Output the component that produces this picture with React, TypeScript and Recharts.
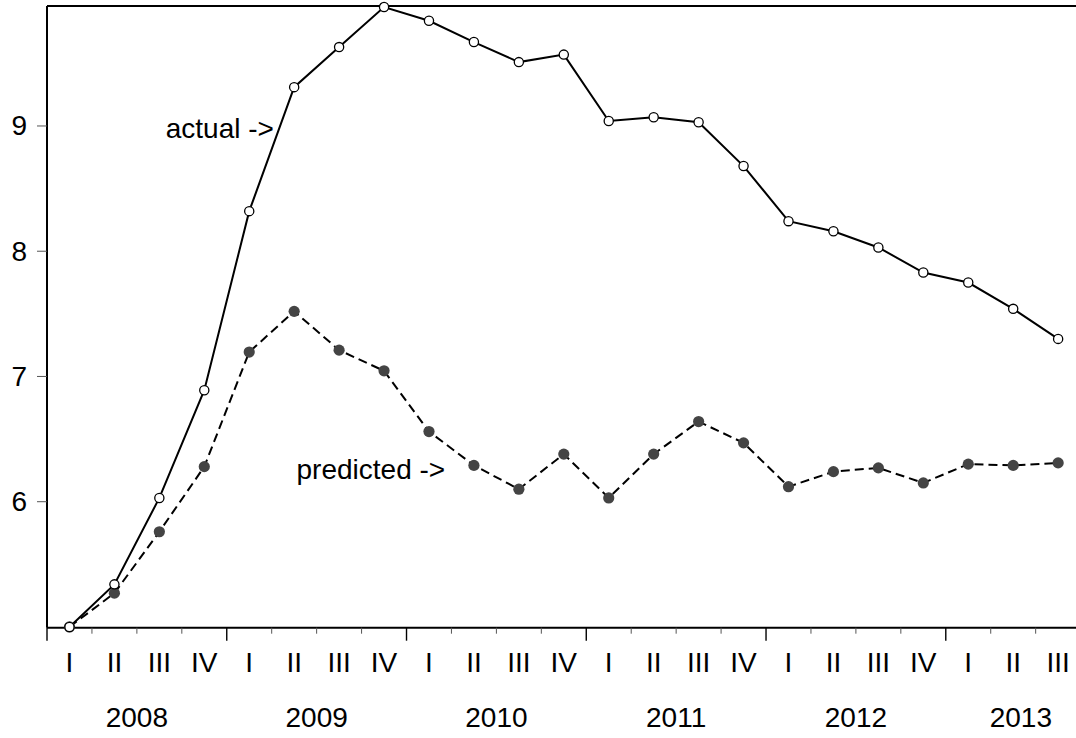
import React from 'react';
import { LineChart, Line, XAxis, YAxis, ReferenceDot, ReferenceLine } from 'recharts';

const quarters = ['I', 'II', 'III', 'IV', 'I', 'II', 'III', 'IV', 'I', 'II', 'III', 'IV', 'I', 'II', 'III', 'IV', 'I', 'II', 'III', 'IV', 'I', 'II', 'III'];
const actual = [5.0, 5.34, 6.03, 6.89, 8.32, 9.31, 9.63, 9.95, 9.84, 9.67, 9.51, 9.57, 9.04, 9.07, 9.03, 8.68, 8.24, 8.16, 8.03, 7.83, 7.75, 7.54, 7.30];
const predicted = [5.0, 5.27, 5.76, 6.28, 7.195, 7.52, 7.21, 7.045, 6.56, 6.29, 6.10, 6.38, 6.03, 6.38, 6.64, 6.47, 6.12, 6.24, 6.27, 6.15, 6.30, 6.29, 6.31];
const years = ['2008', '2009', '2010', '2011', '2012', '2013'];
const yearPositions = [2, 6, 10, 14, 18, 21.67];
const yTicks = [6, 7, 8, 9];
const yDomain = [4.994, 9.958];
const xDomain = [0, 23];

const data = quarters.map((q, i) => ({ x: i + 0.5, q, actual: actual[i], predicted: predicted[i] }));
const boundaries = Array.from({ length: 24 }, (_, i) => i);
const centers = quarters.map((_, i) => i + 0.5);
const allTicks = Array.from(new Set([...boundaries, ...centers, ...yearPositions])).sort((a, b) => a - b);

const FONT = '"Liberation Sans", Arial, Helvetica, sans-serif';
const FS = 28;

const XTick = (props: any) => {
  const { x, y, payload } = props;
  const v = payload.value;
  const parts: any[] = [];
  if (Number.isInteger(v)) {
    const major = v % 4 === 0;
    parts.push(
      <line key="t" x1={x} x2={x} y1={y} y2={y + (major ? 13 : 6)} stroke={major ? '#000' : '#555'} strokeWidth={major ? 1.4 : 1} />
    );
  } else if (Math.abs(v - Math.floor(v) - 0.5) < 1e-9) {
    parts.push(
      <text key="q" x={x} y={y + 44} textAnchor="middle" fontSize={FS} fontFamily={FONT} fill="#000">
        {quarters[Math.floor(v)]}
      </text>
    );
  }
  const yi = yearPositions.indexOf(v);
  if (yi >= 0) {
    parts.push(
      <text key="y" x={x} y={y + 99} textAnchor="middle" fontSize={FS} fontFamily={FONT} fill="#000">
        {years[yi]}
      </text>
    );
  }
  return <g>{parts}</g>;
};

const YTick = (props: any) => {
  const { x, y, payload } = props;
  return (
    <text x={x} y={y} dy={9.5} textAnchor="end" fontSize={FS} fontFamily={FONT} fill="#000">
      {payload.value}
    </text>
  );
};

const OpenDot = (props: any) => {
  const { cx, cy } = props;
  return <circle cx={cx} cy={cy} r={4.6} fill="#fff" stroke="#000" strokeWidth={1.3} />;
};

const FilledDot = (props: any) => {
  const { cx, cy } = props;
  return <circle cx={cx} cy={cy} r={5.6} fill="#444" stroke="none" />;
};

const annotations = [
  { text: 'actual ->', x: 5.05, y: 8.902 },
  { text: 'predicted ->', x: 8.86, y: 6.18 },
];

const AnnotationShape = (text: string) => (props: any) => {
  const { cx, cy } = props;
  return (
    <text x={cx} y={cy} textAnchor="end" fontSize={FS} fontFamily={FONT} fill="#000">
      {text}
    </text>
  );
};

export default function App() {
  return (
    <div style={{ position: 'fixed', left: 0, top: 0, width: 1076, height: 738, overflow: 'hidden', background: '#fff' }}>
      <LineChart
        width={1100}
        height={738}
        data={data}
        margin={{ top: 6, right: 19.4, bottom: 0, left: 0 }}
      >
        <XAxis
          type="number"
          dataKey="x"
          domain={xDomain}
          ticks={allTicks}
          interval={0}
          height={110.3}
          tickSize={0}
          tickMargin={0}
          tickLine={false}
          tick={<XTick />}
          axisLine={{ stroke: '#000', strokeWidth: 2 }}
        />
        <YAxis
          type="number"
          domain={yDomain}
          ticks={yTicks}
          width={47}
          tickSize={10}
          tickMargin={10}
          tickLine={{ stroke: '#555', strokeWidth: 1 }}
          axisLine={{ stroke: '#000', strokeWidth: 2 }}
          tick={<YTick />}
        />
        <ReferenceLine y={yDomain[1]} stroke="#000" strokeWidth={2} ifOverflow="visible" />
        <Line
          type="linear"
          dataKey="predicted"
          stroke="#000"
          strokeWidth={2}
          strokeDasharray="9 5"
          dot={<FilledDot />}
          activeDot={false}
          isAnimationActive={false}
        />
        <Line
          type="linear"
          dataKey="actual"
          stroke="#000"
          strokeWidth={2}
          dot={<OpenDot />}
          activeDot={false}
          isAnimationActive={false}
        />
        {annotations.map((a) => (
          <ReferenceDot
            key={a.text}
            x={a.x}
            y={a.y}
            r={0}
            ifOverflow="visible"
            shape={AnnotationShape(a.text)}
          />
        ))}
      </LineChart>
    </div>
  );
}
